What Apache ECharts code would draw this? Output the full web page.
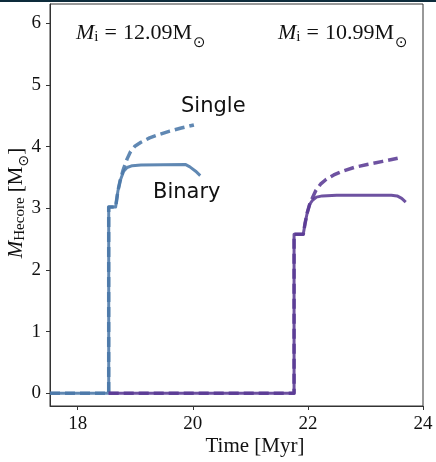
<!DOCTYPE html>
<html>
<head>
<meta charset="utf-8">
<script src="https://cdn.jsdelivr.net/npm/echarts@6/dist/echarts.min.js"></script>
<style>html,body{margin:0;padding:0;background:#fff;}#c{width:436px;height:462px;}</style>
</head>
<body>
<div id="c"></div>
<script>
// ---- data ----
const xTicks = [18, 20, 22, 24];
const yTicks = [0, 1, 2, 3, 4, 5, 6];

const blueBinaryT = [17.52, 18.54, 18.54, 18.66, 18.70, 18.74, 18.80, 18.86, 18.95, 19.10, 19.87, 19.95, 20.05, 20.13];
const blueBinaryM = [0, 0, 3.02, 3.02, 3.28, 3.45, 3.60, 3.66, 3.69, 3.70, 3.71, 3.67, 3.60, 3.53];
const blueSingleT = [17.52, 18.54, 18.54, 18.66, 18.70, 18.74, 18.79, 18.86, 18.92, 19.00, 19.10, 19.25, 19.40, 19.60, 19.80, 20.02];
const blueSingleM = [0, 0, 3.02, 3.02, 3.28, 3.45, 3.62, 3.80, 3.92, 4.01, 4.07, 4.14, 4.19, 4.25, 4.30, 4.35];

const purpleBinaryT = [18.54, 21.76, 21.76, 21.92, 21.95, 21.99, 22.03, 22.08, 22.15, 22.25, 22.50, 23.45, 23.55, 23.63, 23.70];
const purpleBinaryM = [0, 0, 2.58, 2.58, 2.75, 2.93, 3.06, 3.13, 3.18, 3.20, 3.21, 3.21, 3.20, 3.16, 3.10];
const purpleSingleT = [18.54, 21.76, 21.76, 21.92, 21.95, 21.99, 22.03, 22.08, 22.14, 22.22, 22.32, 22.45, 22.60, 22.80, 23.03, 23.30, 23.56];
const purpleSingleM = [0, 0, 2.58, 2.58, 2.75, 2.93, 3.06, 3.17, 3.29, 3.39, 3.47, 3.54, 3.60, 3.66, 3.71, 3.76, 3.81];

const labelLeft = '12.09';
const labelRight = '10.99';

// ---- chart ----
const zip = (t, m) => t.map((v, i) => [v, m[i]]);
const BLUE = '#4a78a8';
const PURPLE = '#5a3a94';
const SERIF = '"Liberation Serif", "DejaVu Serif", serif';
const SANS = '"DejaVu Sans", sans-serif';

function line(name, t, m, color, dashed) {
  return {
    name, type: 'line', data: zip(t, m), showSymbol: false, symbol: 'none',
    animation: false, silent: true,
    lineStyle: { color, width: dashed ? 3.5 : 3, type: dashed ? [10, 5] : 'solid', opacity: 0.88, cap: 'butt', join: 'round' }
  };
}

const richMi = {
  m: { fontFamily: SERIF, fontStyle: 'italic', fontSize: 22, lineHeight: 36, fill: '#111' },
  s: { fontFamily: SERIF, fontSize: 15, lineHeight: 15, padding: [8, 6, 0, 0], fill: '#111' },
  t: { fontFamily: SERIF, fontSize: 22, lineHeight: 36, fill: '#111' },
  u: { fontFamily: SERIF, fontSize: 22, lineHeight: 36, padding: [0, 0, 0, 6], fill: '#111' },
  o: { fontFamily: SANS, fontSize: 15, lineHeight: 15, padding: [20, 0, 0, 1], fill: '#111' }
};

const chart = echarts.init(document.getElementById('c'), null, { renderer: 'canvas' });
chart.setOption({
  animation: false,
  backgroundColor: '#fff',
  grid: { left: 50, right: 13, top: 4, bottom: 56, show: true, borderColor: '#333', borderWidth: 1, backgroundColor: 'transparent' },
  xAxis: {
    type: 'value', min: 17.52, max: 24,
    axisLine: { show: true, onZero: false, lineStyle: { color: '#333', width: 1 } },
    axisTick: { show: true, length: 4, inside: false, customValues: xTicks, lineStyle: { color: '#333' } },
    axisLabel: { customValues: xTicks, margin: 9, fontFamily: SERIF, fontSize: 19, color: '#111', showMaxLabel: true },
    splitLine: { show: false }
  },
  yAxis: {
    type: 'value', min: -0.205, max: 6.31,
    axisLine: { show: true, onZero: false, lineStyle: { color: '#333', width: 1 } },
    axisTick: { show: true, length: 4, inside: false, customValues: yTicks, lineStyle: { color: '#333' } },
    axisLabel: { customValues: yTicks, margin: 9, fontFamily: SERIF, fontSize: 19, color: '#111' },
    splitLine: { show: false }
  },
  series: [
    line('Blue single', blueSingleT, blueSingleM, BLUE, true),
    line('Blue binary', blueBinaryT, blueBinaryM, BLUE, false),
    line('Purple binary', purpleBinaryT, purpleBinaryM, PURPLE, false),
    line('Purple single', purpleSingleT, purpleSingleM, PURPLE, true)
  ],
  graphic: [
    { type: 'rect', left: 0, top: 0, shape: { width: 436, height: 2 }, style: { fill: '#0d2b3b' }, silent: true },
    { type: 'text', left: 76, top: 16, style: { text: '{m|M}{s|i}{t|=}{u|' + labelLeft + 'M}{o|⊙}', rich: richMi } },
    { type: 'text', left: 278, top: 16, style: { text: '{m|M}{s|i}{t|=}{u|' + labelRight + 'M}{o|⊙}', rich: richMi } },
    { type: 'text', left: 181, top: 96, style: { text: 'Single', fontFamily: SANS, fontSize: 21, fill: '#111' } },
    { type: 'text', left: 153, top: 182, style: { text: 'Binary', fontFamily: SANS, fontSize: 21, fill: '#111' } },
    { type: 'text', x: 255, y: 446, style: { text: 'Time [Myr]', fontFamily: SERIF, fontSize: 21, fill: '#111', align: 'center', verticalAlign: 'middle' } },
    { type: 'text', x: 16, y: 203, rotation: Math.PI / 2, style: {
        text: '{m|M}{s|Hecore}{t| [M}{o|⊙}{t|]}', align: 'center', verticalAlign: 'middle',
        rich: {
          m: { fontFamily: SERIF, fontStyle: 'italic', fontSize: 21, lineHeight: 32, fill: '#111' },
          s: { fontFamily: SERIF, fontSize: 15, lineHeight: 15, padding: [9, 0, 0, 0], fill: '#111' },
          t: { fontFamily: SERIF, fontSize: 21, lineHeight: 32, fill: '#111' },
          o: { fontFamily: SANS, fontSize: 14, lineHeight: 14, padding: [17, 0, 0, 0], fill: '#111' }
        } } }
  ]
});
</script>
</body>
</html>
